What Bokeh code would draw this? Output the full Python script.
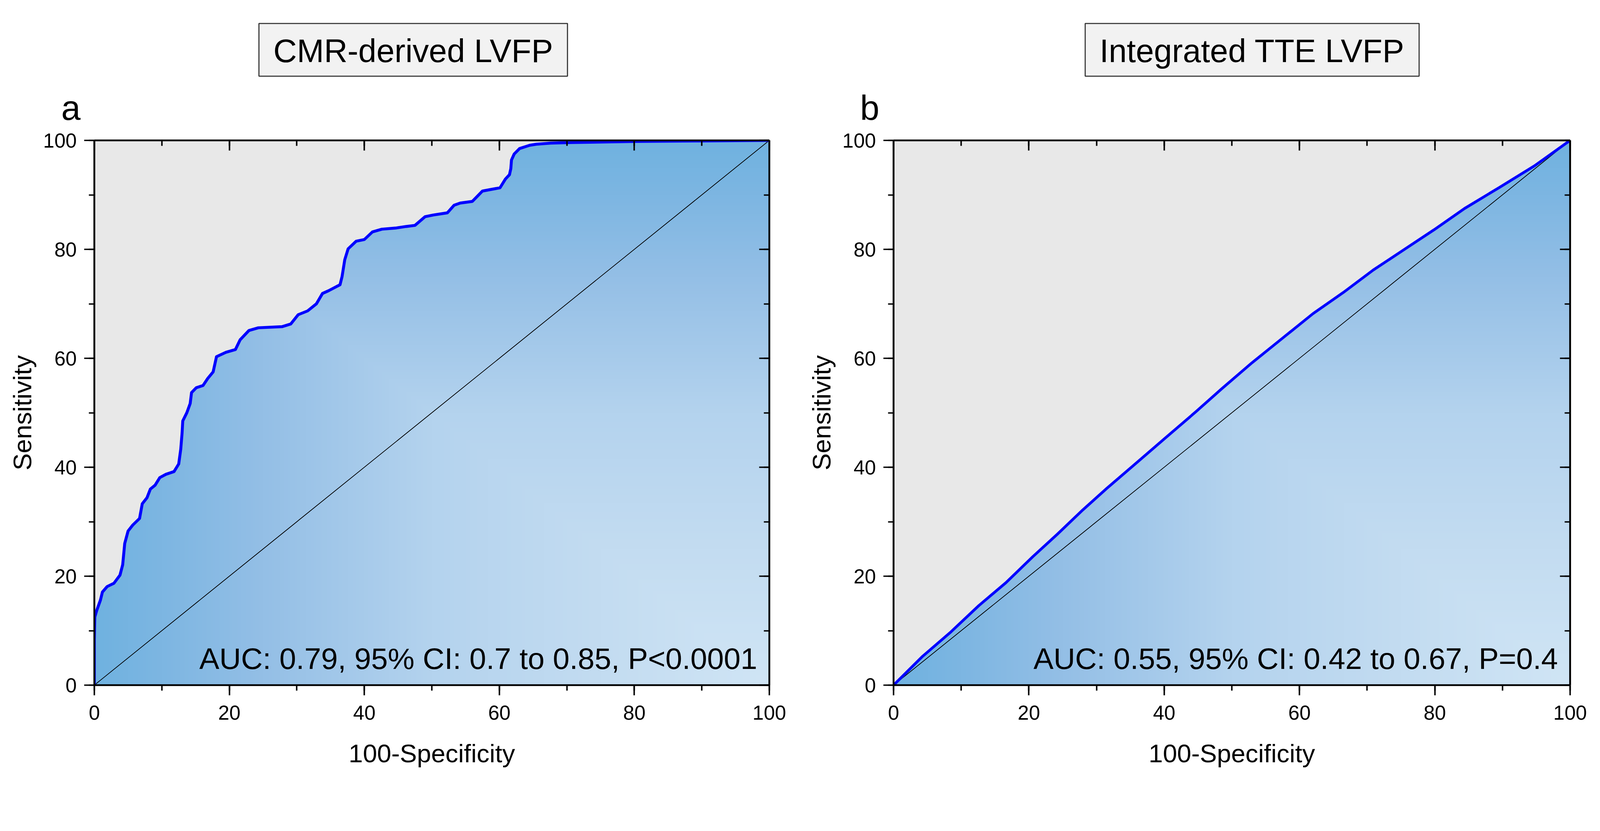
import numpy as np
from bokeh.plotting import figure
from bokeh.layouts import row, column
from bokeh.models import Range1d, LinearAxis, SingleIntervalTicker, Label, CustomJSTickFormatter
from bokeh.embed import file_html
from bokeh.resources import INLINE

# ---------------- data ----------------
fpr_a = [0, 0, 0.07, 0.35, 0.9, 1.2, 1.9, 2.9, 3.8, 4.2, 4.5, 5.0, 5.7, 6.7, 7.1, 7.8, 8.3, 9.0,
         9.7, 10.6, 11.8, 12.5, 12.8, 13.0, 13.1, 13.7, 14.2, 14.4, 15.1, 16.1, 16.8, 17.6, 18.1,
         19.5, 20.9, 21.6, 22.9, 24.3, 27.8, 29.1, 30.2, 31.6, 32.9, 33.8, 34.7, 36.4, 36.7, 37.1,
         37.6, 38.8, 40.0, 41.2, 42.6, 44.6, 46.2, 47.5, 49.0, 50.2, 52.3, 53.3, 54.2, 56.0, 57.5,
         58.8, 60.1, 60.9, 61.5, 61.7, 61.8, 62.2, 63.0, 64.5, 65.5, 67.6, 70.7, 80, 90, 100]
tpr_a = [0, 8.3, 12.5, 13.7, 15.6, 17.1, 18.1, 18.7, 20.2, 22.1, 26.0, 28.3, 29.4, 30.6, 33.3,
         34.4, 36.0, 36.7, 38.1, 38.7, 39.2, 40.6, 43.3, 46.3, 48.5, 50.0, 51.7, 53.7, 54.6, 55.0,
         56.3, 57.5, 60.3, 61.1, 61.6, 63.4, 65.1, 65.6, 65.8, 66.3, 68.0, 68.7, 70.0, 71.9, 72.4,
         73.5, 75.0, 78.1, 80.1, 81.5, 81.8, 83.2, 83.7, 83.9, 84.2, 84.4, 86.0, 86.3, 86.7, 88.1,
         88.5, 88.8, 90.7, 91.0, 91.3, 92.9, 93.7, 94.8, 96.4, 97.5, 98.5, 99.1, 99.3, 99.5, 99.6,
         99.8, 99.9, 100]

fpr_b = [0, 4.3, 8.5, 12.6, 16.6, 20.6, 24.2, 28.0, 31.5, 36.0, 40.2, 44.7, 48.5, 53.0, 57.5,
         62.0, 66.5, 70.9, 75.4, 79.9, 84.4, 89.6, 94.7, 100]
tpr_b = [0, 5.3, 9.8, 14.6, 18.8, 23.6, 27.7, 32.2, 36.1, 40.9, 45.4, 50.2, 54.4, 59.2, 63.7,
         68.2, 72.1, 76.2, 79.9, 83.6, 87.5, 91.4, 95.3, 100]

chance_x = [0, 100]
chance_y = [0, 100]

titles = ["CMR-derived LVFP", "Integrated TTE LVFP"]
letters = ["a", "b"]
auc_texts = ["AUC: 0.79, 95% CI: 0.7 to 0.85, P<0.0001",
             "AUC: 0.55, 95% CI: 0.42 to 0.67, P=0.4"]
x_label = "100-Specificity"
y_label = "Sensitivity"
axis_min, axis_max = 0, 100
major_step = 20

# ---------------- style / layout (reference px) ----------------
S = 0.936          # css px per reference px
FONT = "Liberation Sans"
GRAD_T = [0.0, 0.25, 0.5, 0.75, 0.9, 1.0]
GRAD_RGB = [(208, 229, 245), (195, 220, 241), (180, 211, 238),
            (148, 191, 230), (125, 182, 226), (111, 178, 224)]
GRAY = "#e8e8e8"
CURVE = "#0000ff"

TOP_B, BOT_B, FRAME_H = 32, 246, 1490
HEADER_H = 384 - TOP_B
PANELS = [  # width, left border, right border, frame width
    (2193, 258, 90, 1845),
    (2169, 250, 68, 1851),
]
TITLE_X = [47.24, 53.0]          # data-x of boxed titles
LETTER_X = -4.93                 # data-x of panel letters
TITLE_ANCHOR, LETTER_ANCHOR = 136, 295   # label anchors, px below header top
AUC_X, AUC_Y = 98.2, 4.9
LINE_W = [8, 7.5]


def px(v):
    return int(round(v * S))


def fs(v):
    return f"{v * S:.1f}px"


def gradient_image(nx=700, ny=560):
    gx = np.linspace(0, 1, nx)
    gy = np.linspace(0, 1, ny)
    X, Y = np.meshgrid(gx, gy)
    t = np.maximum(1 - X, Y)
    img = np.empty((ny, nx), dtype=np.uint32)
    v = img.view(dtype=np.uint8).reshape((ny, nx, 4))
    for c in range(3):
        v[:, :, c] = np.interp(t, GRAD_T, [rgb[c] for rgb in GRAD_RGB]).astype(np.uint8)
    v[:, :, 3] = 255
    return img


def style_axis(ax, inward, with_labels):
    ax.ticker = SingleIntervalTicker(interval=major_step, num_minor_ticks=2)
    ax.axis_line_width = 5 * S
    ax.axis_line_color = "black"
    ax.major_tick_line_width = 4 * S
    ax.minor_tick_line_width = 4 * S
    ax.major_tick_line_color = "black"
    ax.minor_tick_line_color = "black"
    if inward:
        ax.major_tick_in, ax.major_tick_out = px(28), 0
        ax.minor_tick_in, ax.minor_tick_out = px(15), 0
    else:
        ax.major_tick_in, ax.major_tick_out = 0, px(28)
        ax.minor_tick_in, ax.minor_tick_out = 0, px(15)
    ax.major_label_text_font = FONT
    ax.major_label_text_font_size = fs(55)
    ax.major_label_text_color = "black"
    ax.axis_label_text_font = FONT
    ax.axis_label_text_font_size = fs(70)
    ax.axis_label_text_font_style = "normal"
    ax.axis_label_text_color = "black"
    if not with_labels:
        ax.formatter = CustomJSTickFormatter(code="return ''")
        ax.major_label_standoff = 0
        ax.major_label_text_font_size = "0px"


def make_panel(fx, fy, auc, width, bl, br, line_w):
    p = figure(width=px(width), height=px(TOP_B + FRAME_H + BOT_B), title=None,
               x_range=Range1d(axis_min, axis_max), y_range=Range1d(axis_min, axis_max),
               output_backend="svg", toolbar_location=None,
               x_axis_location=None, y_axis_location=None,
               min_border_left=px(bl), min_border_right=px(br),
               min_border_top=px(TOP_B), min_border_bottom=px(BOT_B))
    p.grid.visible = False
    p.outline_line_color = None
    p.background_fill_color = GRAY
    p.border_fill_color = "white"

    p.image_rgba(image=[gradient_image()], x=axis_min, y=axis_min,
                 dw=axis_max - axis_min, dh=axis_max - axis_min)
    p.patch(fx + [axis_min], fy + [axis_max], fill_color=GRAY, line_color=None)
    p.line(chance_x, chance_y, line_color="black", line_width=2 * S)
    p.line(fx, fy, line_color=CURVE, line_width=line_w * S, line_join="round")

    bottom = LinearAxis(axis_label=x_label)
    style_axis(bottom, False, True)
    bottom.major_label_standoff = px(28)
    bottom.axis_label_standoff = px(50)
    p.add_layout(bottom, "below")

    left = LinearAxis(axis_label=y_label)
    style_axis(left, False, True)
    left.major_label_standoff = px(20)
    left.axis_label_standoff = px(15)
    p.add_layout(left, "left")

    top = LinearAxis()
    style_axis(top, True, False)
    p.add_layout(top, "above")

    right = LinearAxis()
    style_axis(right, True, False)
    p.add_layout(right, "right")

    p.add_layout(Label(x=AUC_X, y=AUC_Y, text=auc, text_align="right",
                       text_baseline="alphabetic", text_font=FONT,
                       text_font_size=fs(82), text_color="black"))
    return p


# ---- full-width header (titles + panel letters), coordinates in reference px ----
total_w = sum(pw for pw, _, _, _ in PANELS)
header = figure(width=px(total_w), height=px(HEADER_H), title=None,
                x_range=Range1d(0, total_w), y_range=Range1d(0, HEADER_H),
                output_backend="svg", toolbar_location=None,
                x_axis_location=None, y_axis_location=None, min_border=0,
                min_border_left=0, min_border_right=0, min_border_top=0, min_border_bottom=0)
header.grid.visible = False
header.outline_line_color = None
header.background_fill_color = "white"
header.border_fill_color = "white"

x0 = 0
for i, (pw, bl, br, fw) in enumerate(PANELS):
    ppu = fw / (axis_max - axis_min)
    header.add_layout(Label(x=x0 + bl + LETTER_X * ppu, y=HEADER_H - LETTER_ANCHOR,
                            text=letters[i], text_align="left", text_baseline="alphabetic",
                            text_font=FONT, text_font_size=fs(95), text_color="black"))
    header.add_layout(Label(x=x0 + bl + TITLE_X[i] * ppu, y=HEADER_H - TITLE_ANCHOR,
                            text=titles[i], text_align="center", text_baseline="alphabetic",
                            text_font=FONT, text_font_size=fs(89), text_color="black",
                            background_fill_color="#f2f2f2",
                            border_line_color="#333333", border_line_width=3 * S,
                            padding=dict(left=px(39), right=px(39), top=px(26), bottom=px(19))))
    x0 += pw

pa = make_panel(fpr_a, tpr_a, auc_texts[0], *PANELS[0][:3], LINE_W[0])
pb = make_panel(fpr_b, tpr_b, auc_texts[1], *PANELS[1][:3], LINE_W[1])

layout = column(header, row(pa, pb))
open("out.html", "w").write(file_html(layout, INLINE))
